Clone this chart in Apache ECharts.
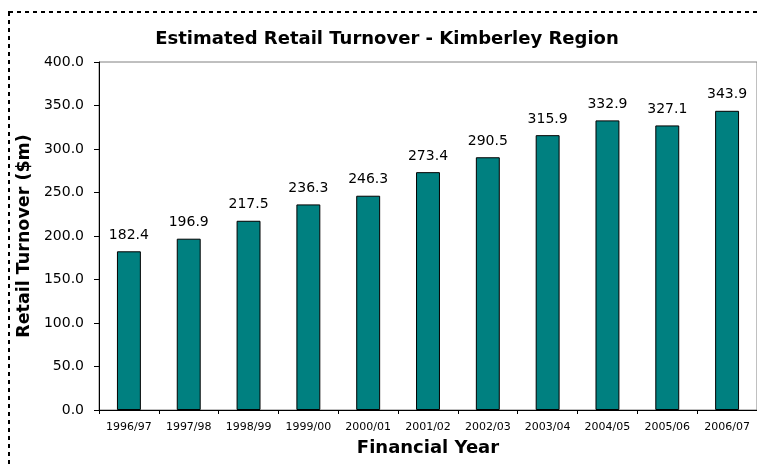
<!DOCTYPE html>
<html><head><meta charset="utf-8">
<script src="https://cdn.jsdelivr.net/npm/echarts@6/dist/echarts.min.js"></script>
<style>html,body{margin:0;padding:0;background:#fff}#c{width:757px;height:465px}</style>
</head><body><div id="c"></div>
<script>
var categories = ['1996/97','1997/98','1998/99','1999/00','2000/01','2001/02','2002/03','2003/04','2004/05','2005/06','2006/07'];
var turnover = [182.4,196.9,217.5,236.3,246.3,273.4,290.5,315.9,332.9,327.1,343.9];
var chart = echarts.init(document.getElementById('c'), null, {renderer:'canvas'});
var F = '"DejaVu Sans", "Liberation Sans", Arial, sans-serif';
chart.setOption({
  animation:false,
  backgroundColor:'#fff',
  title:{text:'Estimated Retail Turnover - Kimberley Region', left:382, top:25, textAlign:'center',
    textStyle:{fontFamily:F, fontSize:18, fontWeight:'bold', color:'#000'}},
  graphic:[{type:'rect', shape:{x:9, y:12, width:760, height:470},
    style:{fill:'none', stroke:'#000', lineWidth:2, lineDash:[4,4]}, silent:true}],
  grid:{left:99, top:62, bottom:55, right:-1, show:true, borderColor:'#808080', borderWidth:1, containLabel:false},
  xAxis:{type:'category', data:categories,
    axisLine:{lineStyle:{color:'#000', width:1}},
    axisTick:{show:true, length:4, lineStyle:{color:'#000'}},
    axisLabel:{fontFamily:F, fontSize:11, color:'#000', margin:12, interval:0},
    name:'Financial Year', nameLocation:'middle', nameGap:29,
    nameTextStyle:{fontFamily:F, fontSize:18, fontWeight:'bold', color:'#000'}},
  yAxis:{type:'value', min:0, max:400, interval:50,
    axisLine:{show:true, lineStyle:{color:'#000', width:1}},
    axisTick:{show:true, length:5, lineStyle:{color:'#000'}},
    splitLine:{show:false},
    axisLabel:{fontFamily:F, fontSize:14, color:'#000', margin:15, formatter:function(v){return v.toFixed(1);}},
    name:'Retail Turnover ($m)', nameLocation:'middle', nameGap:61,
    nameTextStyle:{fontFamily:F, fontSize:17.5, fontWeight:'bold', color:'#000'}},
  series:[{type:'bar', data:turnover, barWidth:'40%',
    itemStyle:{color:'#008080', borderColor:'#000', borderWidth:1},
    label:{show:true, position:'top', distance:9, fontFamily:F, fontSize:14, color:'#000',
      formatter:function(p){return p.value.toFixed(1);}}}]
});
</script></body></html>
